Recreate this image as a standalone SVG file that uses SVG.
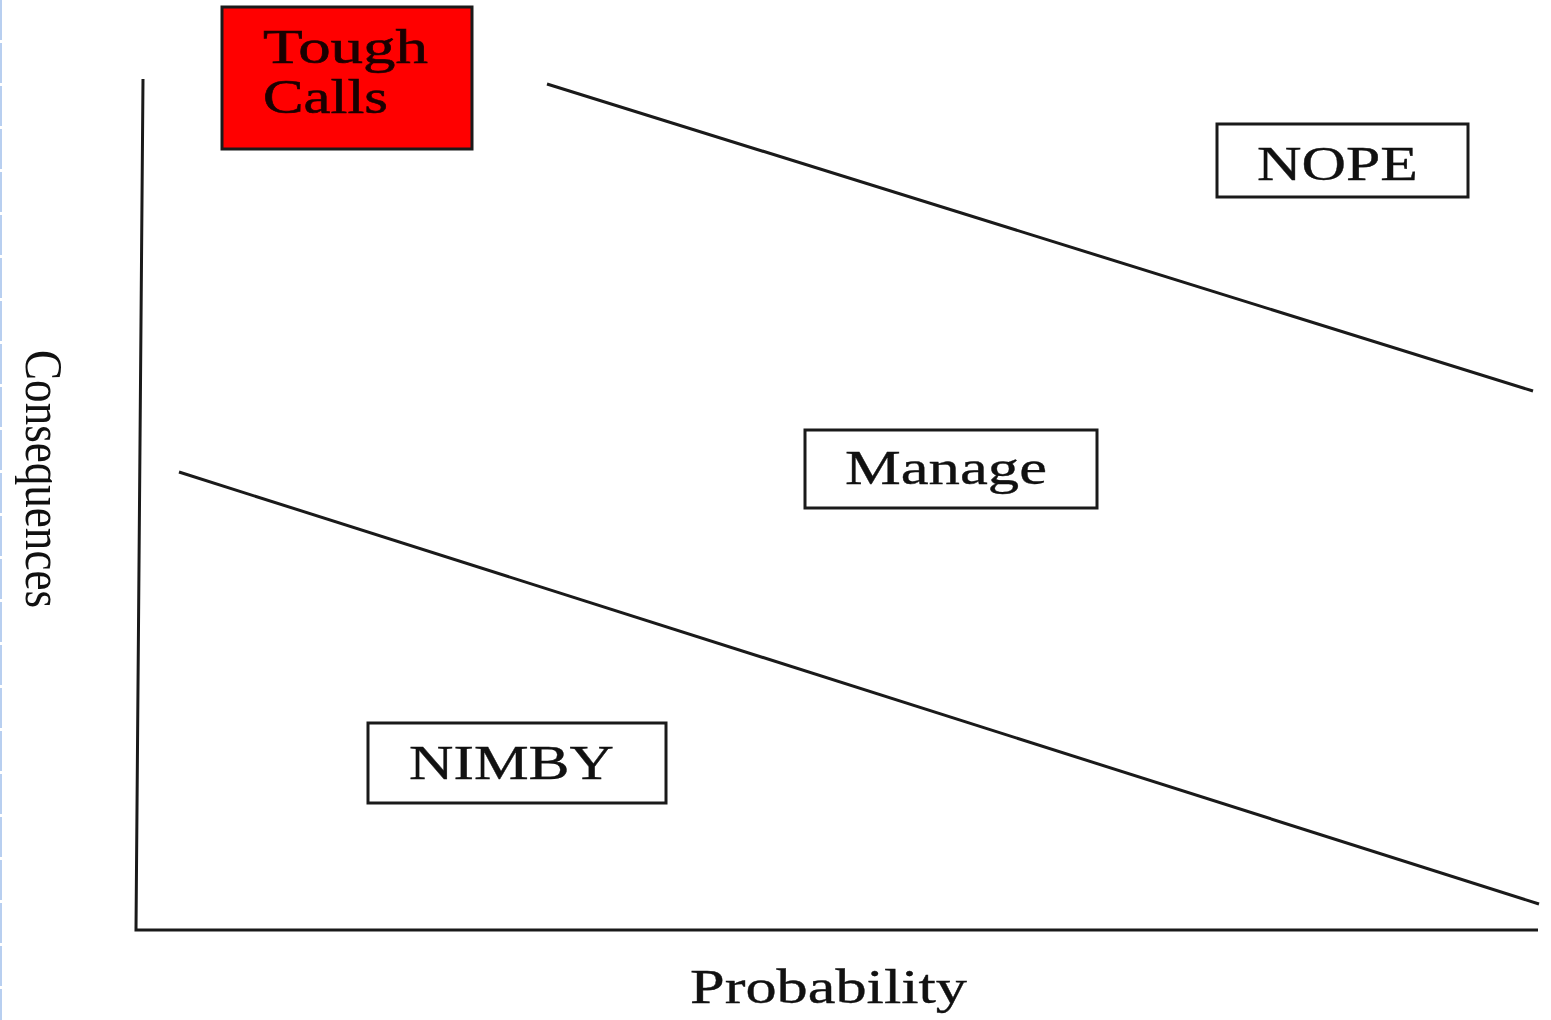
<svg xmlns="http://www.w3.org/2000/svg" width="1551" height="1020" viewBox="0 0 1551 1020">
<style>
.box{fill:#fff;stroke:#1a1a1a;stroke-width:3}
.lbl{font-family:"Liberation Serif","Times New Roman",serif;font-size:48px;fill:#111;stroke:#111;stroke-width:0.35}
.ln{stroke:#1a1a1a;stroke-width:3;fill:none;stroke-linecap:butt}
</style>
<rect width="1551" height="1020" fill="#fff"/>
<line x1="1" y1="0" x2="1" y2="1020" stroke="#b8cff0" stroke-width="2" stroke-dasharray="40 3"/>
<g id="connectors">
<path class="ln" d="M143,79 L136,930 L1538,930"/>
<line class="ln" x1="547" y1="84" x2="1533" y2="391" stroke-width="2.6"/>
<line class="ln" x1="179" y1="472" x2="1539" y2="904" stroke-width="2.6"/>
</g>
<g id="tough-calls">
<rect x="222" y="7" width="250" height="142" fill="#ff0000" stroke="#1a1a1a" stroke-width="3"/>
<text class="lbl" x="263" y="63" textLength="165" lengthAdjust="spacingAndGlyphs" style="fill:#1a0000;stroke:#1a0000;stroke-width:0.6">Tough</text>
<text class="lbl" x="263" y="113" textLength="125" lengthAdjust="spacingAndGlyphs" style="fill:#1a0000;stroke:#1a0000;stroke-width:0.6">Calls</text>
</g>
<g id="nope">
<rect class="box" x="1217" y="124" width="251" height="73"/>
<text class="lbl" x="1257" y="180" textLength="161" lengthAdjust="spacingAndGlyphs">NOPE</text>
</g>
<g id="manage">
<rect class="box" x="805" y="430" width="292" height="78"/>
<text class="lbl" x="845" y="484" textLength="202" lengthAdjust="spacingAndGlyphs">Manage</text>
</g>
<g id="nimby">
<rect class="box" x="368" y="723" width="298" height="80"/>
<text class="lbl" x="409" y="779" textLength="205" lengthAdjust="spacingAndGlyphs">NIMBY</text>
</g>
<g id="axis-labels">
<text class="lbl" x="690" y="1003" textLength="277" lengthAdjust="spacingAndGlyphs">Probability</text>
<text class="lbl" transform="translate(26,350) rotate(90)" x="0" y="0" textLength="258" lengthAdjust="spacingAndGlyphs" style="font-size:52px;stroke-width:0">Consequences</text>
</g>
</svg>
